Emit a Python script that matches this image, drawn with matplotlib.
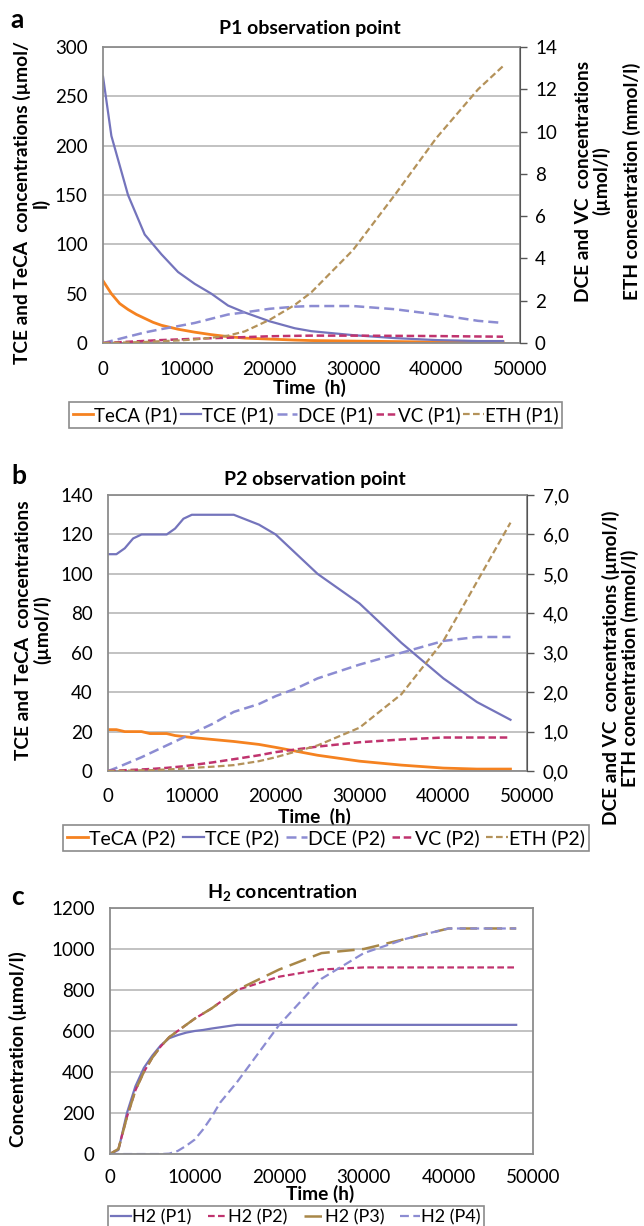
import matplotlib
matplotlib.use("Agg")
import matplotlib.pyplot as plt
from matplotlib.ticker import FuncFormatter

plt.rcParams['font.family'] = ['Lato', 'DejaVu Sans']
plt.rcParams['mathtext.fontset'] = 'custom'
plt.rcParams['mathtext.rm'] = 'Lato'
plt.rcParams['mathtext.bf'] = 'Lato:bold'

# ---- panel a: P1 observation point ----
t_a = [0, 1000, 2000, 3000, 4000, 5000, 6000, 7000, 9000, 11000, 13000, 15000,
       17000, 20000, 23000, 25000, 30000, 35000, 40000, 45000, 48000]
teca_p1 = [63, 50, 40, 34, 29, 25, 21, 18, 14, 11, 8.5, 6.5, 5, 4, 3, 2.5, 2, 1.5, 1, 1, 1]
tce_p1 = [270, 210, 180, 150, 130, 110, 100, 90, 72, 60, 50, 38, 31, 22, 15, 12, 8, 5, 3, 2, 2]
dce_p1 = [0, 0.1, 0.2, 0.3, 0.4, 0.5, 0.58, 0.66, 0.8, 0.95, 1.15, 1.35, 1.45, 1.62, 1.72, 1.75,
          1.75, 1.6, 1.35, 1.05, 0.95]
vc_p1 = [0, 0.02, 0.04, 0.06, 0.08, 0.1, 0.12, 0.14, 0.17, 0.2, 0.23, 0.25, 0.28, 0.32, 0.34, 0.35,
         0.35, 0.34, 0.33, 0.31, 0.3]
eth_p1 = [0, 0.01, 0.02, 0.03, 0.04, 0.05, 0.07, 0.09, 0.12, 0.17, 0.25, 0.35, 0.55, 1.1, 1.8, 2.4,
          4.4, 7.0, 9.7, 12.0, 13.1]

# ---- panel b: P2 observation point ----
t_b = [0, 1000, 2000, 3000, 4000, 5000, 7000, 8000, 9000, 10000, 12500, 15000, 18000, 20000,
       22500, 25000, 30000, 35000, 40000, 44000, 48000]
teca_p2 = [21, 21, 20, 20, 20, 19, 19, 18, 17.5, 17, 16, 15, 13.5, 12, 10, 8, 5, 3, 1.5, 1, 1]
tce_p2 = [110, 110, 113, 118, 120, 120, 120, 123, 128, 130, 130, 130, 125, 120, 110, 100, 85,
          65, 47, 35, 26]
dce_p2 = [0, 0.08, 0.17, 0.26, 0.35, 0.45, 0.65, 0.75, 0.85, 0.95, 1.2, 1.5, 1.7, 1.9, 2.1, 2.35,
          2.7, 3.0, 3.3, 3.4, 3.4]
vc_p2 = [0, 0.01, 0.02, 0.03, 0.04, 0.05, 0.08, 0.1, 0.12, 0.15, 0.22, 0.3, 0.4, 0.48, 0.55, 0.62,
         0.73, 0.8, 0.85, 0.85, 0.85]
eth_p2 = [0, 0.0, 0.01, 0.01, 0.02, 0.02, 0.04, 0.05, 0.06, 0.08, 0.11, 0.15, 0.25, 0.35, 0.5, 0.65,
          1.1, 1.95, 3.3, 4.8, 6.3]

# ---- panel c: H2 concentration ----
t_c = [0, 1000, 2000, 3000, 4000, 5000, 6000, 7000, 8000, 9000, 10000, 11000, 12000, 13000,
       15000, 20000, 25000, 30000, 35000, 40000, 48000]
h2_p1 = [0, 20, 200, 330, 420, 480, 530, 565, 580, 592, 600, 605, 612, 618, 630, 630, 630, 630,
         630, 630, 630]
h2_p2 = [0, 25, 180, 310, 400, 470, 525, 570, 600, 630, 660, 685, 710, 740, 800, 865, 900, 910,
         910, 910, 910]
h2_p3 = [0, 25, 180, 310, 400, 470, 525, 570, 600, 630, 660, 685, 710, 740, 800, 900, 980, 1000,
         1050, 1100, 1100]
h2_p4 = [0, 0, 0, 0, 0, 0, 0, 2, 15, 40, 70, 120, 180, 250, 350, 630, 855, 980, 1050, 1100, 1100]

c_teca = '#F58220'
c_tce = '#7474BC'
c_dce = '#8C8CD2'
c_vc = '#C0336E'
c_eth = '#B4925A'
c_p3 = '#A88748'
grid_c = '#BDBDBD'
spine_c = '#8C8C8C'

TICK = 13.5
LAB = 13.8
TIT = 14
LEG = 13.5


def style_axes(ax, yticks, xpad, ypad=11):
    ax.set_xlim(0, 50000)
    ax.set_xticks([0, 10000, 20000, 30000, 40000, 50000])
    ax.set_ylim(yticks[0], yticks[-1])
    ax.set_yticks(yticks)
    ax.yaxis.grid(True, color=grid_c, linewidth=1.3)
    ax.set_axisbelow(True)
    ax.tick_params(axis='both', length=0, labelsize=TICK)
    ax.tick_params(axis='x', pad=xpad)
    ax.tick_params(axis='y', pad=ypad)
    for s in ax.spines.values():
        s.set_color(spine_c)
        s.set_linewidth(1.3)


def style_right(axr):
    axr.tick_params(axis='y', length=5, width=1, color='#555555', labelsize=TICK, pad=6)
    axr.spines['right'].set_color('#555555')
    for s in ['left', 'top', 'bottom']:
        axr.spines[s].set_visible(False)


def add_legend(handles, x, y, loc='center', fs=LEG, colsp=0.15):
    leg = fig.legend(handles=handles, loc=loc, bbox_to_anchor=(x, y), ncol=len(handles),
                     frameon=True, fancybox=False, fontsize=fs, handlelength=1.1,
                     handletextpad=0.05, columnspacing=colsp, borderpad=0.2, borderaxespad=0)
    leg.get_frame().set_edgecolor('#6E6E6E')
    leg.get_frame().set_linewidth(1.2)


def vtext(x, y, s, fs=LAB):
    fig.text(x, y, s, rotation=90, ha='center', va='center', fontsize=fs,
             fontweight='bold', linespacing=1.05, multialignment='center')


fig = plt.figure(figsize=(6.44, 12.26), dpi=100)

# panel a
ax1 = fig.add_axes([0.160, 0.7202, 0.647, 0.2414])
ax1r = ax1.twinx()
style_axes(ax1, [0, 50, 100, 150, 200, 250, 300], xpad=13)
l1, = ax1.plot(t_a, teca_p1, color=c_teca, lw=2, label='TeCA (P1)')
l2, = ax1.plot(t_a, tce_p1, color=c_tce, lw=1.6, label='TCE (P1)')
ax1r.set_ylim(0, 14)
ax1r.set_yticks(range(0, 15, 2))
l3, = ax1r.plot(t_a, dce_p1, color=c_dce, lw=1.8, dashes=(4, 2), label='DCE (P1)')
l4, = ax1r.plot(t_a, vc_p1, color=c_vc, lw=1.8, dashes=(3, 1.5), label='VC (P1)')
l5, = ax1r.plot(t_a, eth_p1, color=c_eth, lw=1.6, dashes=(3, 1.5), label='ETH (P1)')
style_right(ax1r)
fig.text(0.481, 0.977, 'P1 observation point', ha='center', va='center', fontsize=TIT,
         fontweight='bold')
fig.text(0.481, 1 - 388 / 1226, 'Time  (h)', ha='center', va='center', fontsize=LAB,
         fontweight='bold')
vtext(0.049, 1 - 203 / 1226, 'TCE and TeCA  concentrations (µmol/\nl)')
vtext(0.920, 1 - 181 / 1226, 'DCE and VC  concentrations\n(µmol/l)')
vtext(0.981, 1 - 181 / 1226, 'ETH concentration (mmol/l)')
fig.text(0.016, 1 - 20 / 1226, 'a', fontsize=19, fontweight='bold', va='center')
add_legend([l1, l2, l3, l4, l5], 0.490, 1 - 415 / 1226)

# panel b
ax2 = fig.add_axes([0.1677, 0.3711, 0.651, 0.2251])
ax2r = ax2.twinx()
style_axes(ax2, [0, 20, 40, 60, 80, 100, 120, 140], xpad=12)
m1, = ax2.plot(t_b, teca_p2, color=c_teca, lw=2, label='TeCA (P2)')
m2, = ax2.plot(t_b, tce_p2, color=c_tce, lw=1.6, label='TCE (P2)')
ax2r.set_ylim(0, 7)
ax2r.set_yticks(range(0, 8))
ax2r.yaxis.set_major_formatter(FuncFormatter(lambda v, p: f'{v:.1f}'.replace('.', ',')))
m3, = ax2r.plot(t_b, dce_p2, color=c_dce, lw=1.8, dashes=(4, 2), label='DCE (P2)')
m4, = ax2r.plot(t_b, vc_p2, color=c_vc, lw=1.8, dashes=(3, 1.5), label='VC (P2)')
m5, = ax2r.plot(t_b, eth_p2, color=c_eth, lw=1.6, dashes=(3, 1.5), label='ETH (P2)')
style_right(ax2r)
fig.text(0.489, 1 - 480 / 1226, 'P2 observation point', ha='center', va='center',
         fontsize=TIT, fontweight='bold')
fig.text(0.489, 1 - 817 / 1226, 'Time  (h)', ha='center', va='center', fontsize=LAB,
         fontweight='bold')
vtext(0.051, 1 - 630 / 1226, 'TCE and TeCA  concentrations\n(µmol/l)')
vtext(0.963, 1 - 668 / 1226, 'DCE and VC  concentrations (µmol/l)\nETH concentration (mmol/l)')
fig.text(0.018, 1 - 476 / 1226, 'b', fontsize=19, fontweight='bold', va='center')
add_legend([m1, m2, m3, m4, m5], 0.506, 1 - 838 / 1226, fs=14, colsp=0.35)

# panel c
ax3 = fig.add_axes([0.1708, 0.0587, 0.657, 0.2007])
style_axes(ax3, [0, 200, 400, 600, 800, 1000, 1200], xpad=11)
n1, = ax3.plot(t_c, h2_p1, color=c_tce, lw=1.6, label='H2 (P1)')
n2, = ax3.plot(t_c, h2_p2, color=c_vc, lw=1.6, dashes=(3, 1.5), label='H2 (P2)')
n3, = ax3.plot(t_c, h2_p3, color=c_p3, lw=1.8, dashes=(7, 3), label='H2 (P3)')
n4, = ax3.plot(t_c, h2_p4, color=c_dce, lw=1.6, dashes=(4, 2), label='H2 (P4)')
fig.text(0.439, 1 - 893 / 1226, r'H$_\mathbf{2}$ concentration', ha='center', va='center',
         fontsize=TIT, fontweight='bold')
fig.text(0.497, 1 - 1194 / 1226, 'Time (h)', ha='center', va='center', fontsize=LAB,
         fontweight='bold')
vtext(0.028, 1 - 1049 / 1226, 'Concentration (µmol/l)')
fig.text(0.018, 1 - 897 / 1226, 'c', fontsize=19, fontweight='bold', va='center')
add_legend([n1, n2, n3, n4], 0.4596, 1 - 1206 / 1226, loc='upper center', fs=13, colsp=0.9)

fig.savefig('out.png', dpi=100)
